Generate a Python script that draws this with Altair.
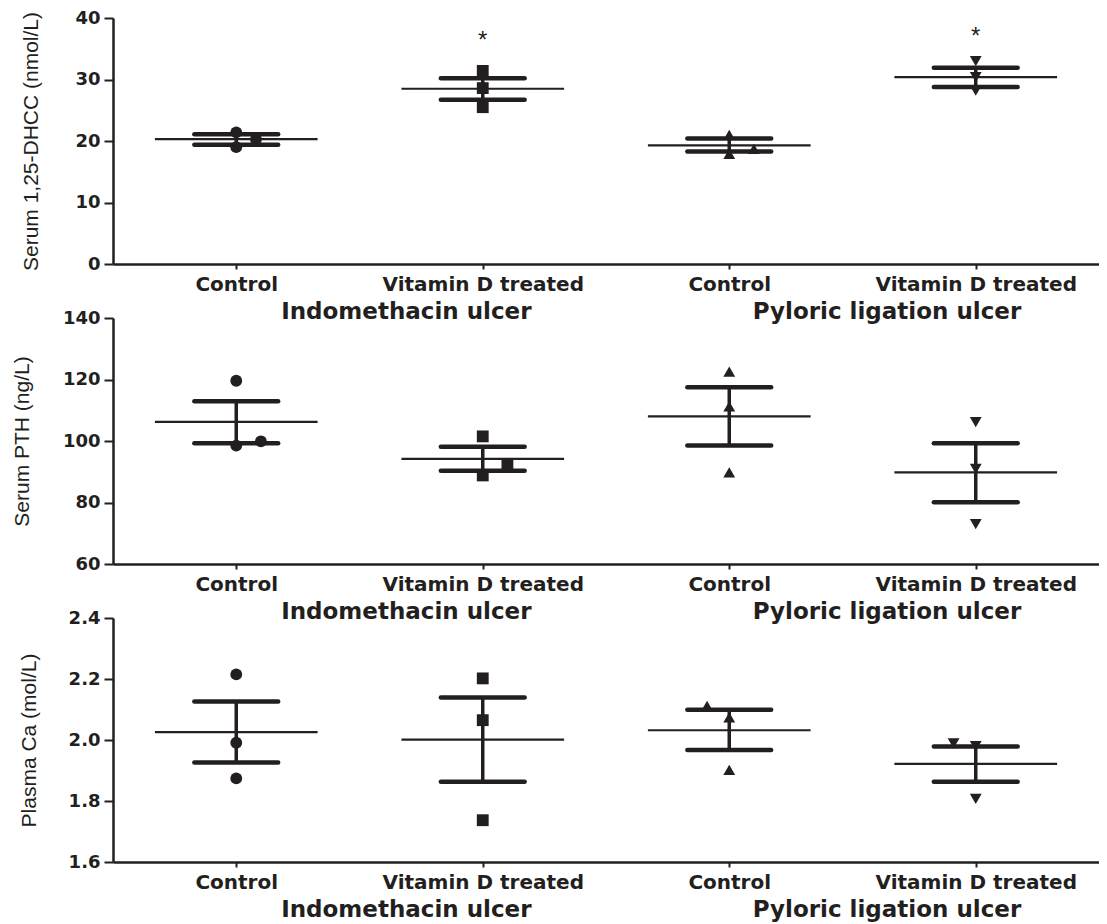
import altair as alt
import pandas as pd

# ---------------- data ----------------
groups = ["Control", "Vitamin D treated", "Control", "Vitamin D treated"]
studies = ["Indomethacin ulcer", "Pyloric ligation ulcer"]
study_centre = [1.19, 3.14]          # centre of each study label, in category units

# Serum 1,25-DHCC (nmol/L)
dhcc_points = [[21.4, 20.3, 19.0], [31.4, 28.6, 25.5], [21.0, 18.7, 17.9], [33.0, 30.4, 28.2]]
dhcc_jitter = [[0, 0.08, 0], [0, 0, 0], [0, 0.1, 0], [0, 0, 0]]
dhcc_mean = [20.3, 28.5, 19.3, 30.4]
dhcc_upper = [21.1, 30.2, 20.4, 31.9]
dhcc_lower = [19.4, 26.7, 18.3, 28.8]
dhcc_star_group = [1, 3]
dhcc_star_value = [37.1, 37.7]

# Serum PTH (ng/L)
pth_points = [[119.6, 99.9, 98.5], [101.5, 92.3, 88.8], [122.6, 111.3, 89.8], [106.1, 90.9, 73.0]]
pth_jitter = [[0, 0.1, 0], [0, 0.1, 0], [0, 0, 0], [0, 0, 0]]
pth_mean = [106.2, 94.2, 108.0, 89.8]
pth_upper = [112.9, 98.1, 117.5, 99.3]
pth_lower = [99.3, 90.3, 98.5, 80.1]

# Plasma Ca (mol/L)
ca_points = [[2.215, 1.991, 1.874], [2.202, 2.065, 1.737], [2.112, 2.074, 1.902], [1.989, 1.98, 1.807]]
ca_jitter = [[0, 0, 0], [0, 0, 0], [-0.09, 0, 0], [-0.09, 0, 0]]
ca_mean = [2.026, 2.001, 2.032, 1.922]
ca_upper = [2.126, 2.139, 2.099, 1.979]
ca_lower = [1.926, 1.863, 1.967, 1.863]

# ---------------- styling ----------------
INK = "#231f20"
SHAPES = ["circle", "square", "triangle-up", "triangle-down"]
W = 986
MEAN_HALF = 0.33
CAP_HALF = 0.17

label_expr = "[" + ",".join("'" + g + "'" for g in groups) + "][floor(datum.value)]"


def panel(points, jitter, mean, upper, lower, yvals, fmt, ytitle, tpad, height,
          star_group=None, star_value=None):
    n = len(groups)
    pts = pd.DataFrame([
        {"x": i + 0.5 + jitter[i][k], "v": points[i][k], "g": str(i)}
        for i in range(n) for k in range(len(points[i]))
    ])
    summ = pd.DataFrame({
        "c": [i + 0.5 for i in range(n)],
        "mean": mean, "hi": upper, "lo": lower,
    })
    summ["m1"] = summ["c"] - MEAN_HALF
    summ["m2"] = summ["c"] + MEAN_HALF
    summ["c1"] = summ["c"] - CAP_HALF
    summ["c2"] = summ["c"] + CAP_HALF

    xs = alt.Scale(domain=[0, n], nice=False, zero=False)
    ys = alt.Scale(domain=[yvals[0], yvals[-1]], nice=False, zero=False)
    xaxis = alt.Axis(values=[i + 0.5 for i in range(n)], labelExpr=label_expr, title=None,
                     tickSize=5, labelPadding=5, labelFont="DejaVu Sans",
                     labelFontWeight="bold", labelFontSize=20, labelAngle=0, labelLimit=0,
                     labelOverlap=False, labelFlush=False, grid=False)
    yaxis = alt.Axis(values=yvals, format=fmt, title=ytitle, titlePadding=tpad,
                     titleFont="Liberation Sans", titleFontSize=21, titleFontWeight="normal",
                     labelFont="DejaVu Sans", labelFontWeight="bold", labelFontSize=18,
                     tickSize=9, labelPadding=4, labelFlush=False, grid=False)

    base = alt.Chart(summ)
    mean_line = base.mark_rule(color=INK, strokeWidth=2.2).encode(
        x=alt.X("m1:Q", scale=xs, axis=xaxis), x2="m2:Q",
        y=alt.Y("mean:Q", scale=ys, axis=yaxis))
    stem = base.mark_rule(color=INK, strokeWidth=3.5).encode(
        x=alt.X("c:Q", scale=xs, axis=xaxis),
        y=alt.Y("lo:Q", scale=ys, axis=yaxis), y2="hi:Q")
    cap_hi = base.mark_rule(color=INK, strokeWidth=4.5, strokeCap="round").encode(
        x=alt.X("c1:Q", scale=xs, axis=xaxis), x2="c2:Q",
        y=alt.Y("hi:Q", scale=ys, axis=yaxis))
    cap_lo = base.mark_rule(color=INK, strokeWidth=4.5, strokeCap="round").encode(
        x=alt.X("c1:Q", scale=xs, axis=xaxis), x2="c2:Q",
        y=alt.Y("lo:Q", scale=ys, axis=yaxis))
    dots = alt.Chart(pts).mark_point(filled=True, opacity=1, color=INK, size=140).encode(
        x=alt.X("x:Q", scale=xs, axis=xaxis),
        y=alt.Y("v:Q", scale=ys, axis=yaxis),
        shape=alt.Shape("g:N", scale=alt.Scale(domain=[str(i) for i in range(n)], range=SHAPES),
                        legend=None))
    lab_df = pd.DataFrame({"x": study_centre, "t": studies})
    study_lab = alt.Chart(lab_df).mark_text(
        font="DejaVu Sans", fontWeight="bold", fontSize=23, color=INK,
        baseline="alphabetic", align="center", dy=55).encode(
        x=alt.X("x:Q", scale=xs, axis=xaxis), y=alt.value(height), text="t:N")
    layers = [mean_line, stem, cap_hi, cap_lo, dots, study_lab]
    if star_group:
        sdf = pd.DataFrame({"x": [g + 0.5 for g in star_group], "v": star_value,
                            "t": ["*"] * len(star_group)})
        stars = alt.Chart(sdf).mark_text(font="Liberation Sans", fontSize=24, color=INK,
                                         baseline="middle", dy=5).encode(
            x=alt.X("x:Q", scale=xs, axis=xaxis),
            y=alt.Y("v:Q", scale=ys, axis=yaxis), text="t:N")
        layers.append(stars)
    return alt.layer(*layers).properties(width=W, height=height)


p1 = panel(dhcc_points, dhcc_jitter, dhcc_mean, dhcc_upper, dhcc_lower,
           [0, 10, 20, 30, 40], "d", "Serum 1,25-DHCC (nmol/L)", 33, 246,
           dhcc_star_group, dhcc_star_value)
p2 = panel(pth_points, pth_jitter, pth_mean, pth_upper, pth_lower,
           [60, 80, 100, 120, 140], "d", "Serum PTH (ng/L)", 30, 246)
p3 = panel(ca_points, ca_jitter, ca_mean, ca_upper, ca_lower,
           [1.6, 1.8, 2.0, 2.2, 2.4], ".1f", "Plasma Ca (mol/L)", 29, 244)

chart = alt.vconcat(p1, p2, p3, spacing=54, bounds="flush").properties(
    padding={"left": 3, "top": 1, "right": 0, "bottom": 0}
).configure_view(stroke=None).configure_axis(
    domainColor=INK, tickColor=INK, labelColor=INK, titleColor=INK,
    domainWidth=2.5, tickWidth=2, grid=False
)

chart.save("out.html", embed_options={"renderer": "svg", "actions": False})
